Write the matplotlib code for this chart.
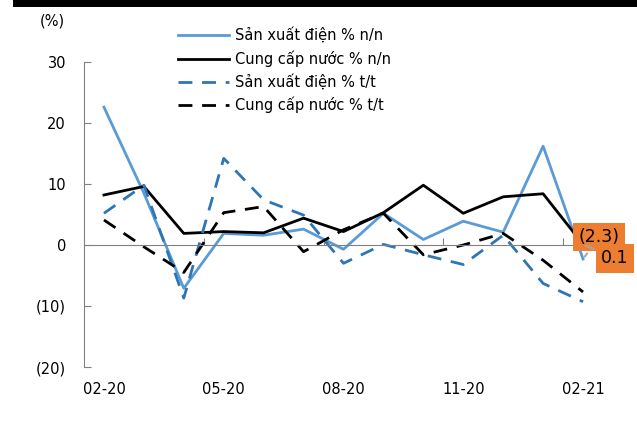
import matplotlib
matplotlib.use("Agg")
import matplotlib.pyplot as plt
from matplotlib.patches import Rectangle

months = ["02-20", "03-20", "04-20", "05-20", "06-20", "07-20", "08-20",
          "09-20", "10-20", "11-20", "12-20", "01-21", "02-21"]
elec_yoy = [22.6, 8.5, -7.1, 1.9, 1.6, 2.6, -0.7, 5.2, 0.9, 3.9, 2.1, 16.2, -2.3]
water_yoy = [8.2, 9.6, 1.9, 2.2, 2.0, 4.4, 2.2, 5.3, 9.8, 5.2, 7.9, 8.4, 0.1]
elec_mom = [5.2, 9.8, -8.7, 14.2, 7.4, 4.9, -3.0, 0.1, -1.6, -3.2, 1.6, -6.3, -9.3]
water_mom = [4.1, -0.3, -4.5, 5.3, 6.3, -1.1, 2.5, 5.2, -1.6, 0.0, 1.9, -2.5, -7.7]
labels = ["Sản xuất điện % n/n", "Cung cấp nước % n/n",
          "Sản xuất điện % t/t", "Cung cấp nước % t/t"]
yticks = [-20, -10, 0, 10, 20, 30]

W, H = 637, 438
fig = plt.figure(figsize=(W / 100, H / 100), dpi=100)
ax = fig.add_axes([84 / W, 1 - 367 / H, (603 - 84) / W, (367 - 62) / H])

x = list(range(len(months)))
l1, = ax.plot(x, elec_yoy, color="#5B9BD5", lw=2)
l2, = ax.plot(x, water_yoy, color="black", lw=2)
l3, = ax.plot(x, elec_mom, color="#2E75B6", lw=2, ls=(0, (5, 3.5)))
l4, = ax.plot(x, water_mom, color="black", lw=2, ls=(0, (5, 3.5)))

ax.set_xlim(-0.5, 12.5)
ax.set_ylim(-20, 30)
ax.set_yticks(yticks)
ax.set_yticklabels([f"({abs(v)})" if v < 0 else str(v) for v in yticks], fontsize=10.5)
ax.tick_params(axis="y", direction="in", length=5, color="#808080", pad=13)
for s in ["top", "right"]:
    ax.spines[s].set_visible(False)
ax.spines["left"].set_color("#808080")
ax.spines["bottom"].set_position(("data", 0))
ax.spines["bottom"].set_color("#808080")
ax.set_xticks([2.5, 5.5, 8.5, 11.5])
ax.set_xticklabels([])
ax.tick_params(axis="x", direction="in", length=5, color="#808080")

tr = ax.get_xaxis_transform()
for i in range(0, len(months), 3):
    ax.text(i, -0.075, months[i], transform=tr, ha="center", va="center", fontsize=10.5)

fig.text(52 / W, 1 - 21 / H, "(%)", ha="center", va="center", fontsize=10.5)

leg = fig.legend([l1, l2, l3, l4], labels, loc="upper left",
                 bbox_to_anchor=(165 / W, 1 - 14 / H), frameon=False,
                 fontsize=10.5, handlelength=3.5, handletextpad=0.4,
                 labelspacing=0.5)

# data labels for the last point
box = dict(boxstyle="square,pad=0.3", fc="#ED7D31", ec="none")
arrow = dict(arrowstyle="-", color="#A6A6A6", lw=1.5)
ax.annotate("(2.3)", (12, elec_yoy[-1]), xytext=(16, 22), textcoords="offset pixels",
            ha="center", va="center", fontsize=12.5, bbox=box, arrowprops=arrow)
ax.annotate("0.1", (12, water_yoy[-1]), xytext=(32, -14), textcoords="offset pixels",
            ha="center", va="center", fontsize=12.5, bbox=box, arrowprops=arrow)

fig.add_artist(Rectangle((13 / W, 1 - 7 / H), 1, 7 / H, transform=fig.transFigure,
                         color="black", lw=0))

fig.savefig("out.png", dpi=100)
